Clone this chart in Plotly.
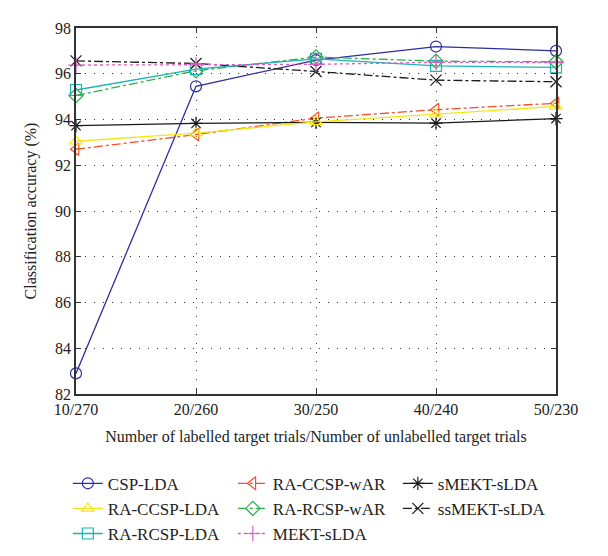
import plotly.graph_objects as go

categories = ["10/270", "20/260", "30/250", "40/240", "50/230"]

csp_lda = [82.9, 95.45, 96.6, 97.19, 97.0]
ra_ccsp_lda = [93.05, 93.4, 93.9, 94.22, 94.57]
ra_rcsp_lda = [95.29, 96.2, 96.65, 96.34, 96.28]
ra_ccsp_war = [92.7, 93.34, 94.06, 94.43, 94.71]
ra_rcsp_war = [95.05, 96.13, 96.73, 96.55, 96.52]
mekt_slda = [96.38, 96.4, 96.41, 96.5, 96.49]
smekt_slda = [93.73, 93.83, 93.87, 93.84, 94.04]
ssmekt_slda = [96.56, 96.45, 96.1, 95.72, 95.65]

yticks = [82, 84, 86, 88, 90, 92, 94, 96, 98]

xs = list(range(len(categories)))

series = [
    # name, values, color, dash, symbol, rank
    ("CSP-LDA", csp_lda, "#2E2E9E", "solid", "circle-open", 1),
    ("RA-CCSP-wAR", ra_ccsp_war, "#F0502A", "dashdot", "triangle-left-open", 2),
    ("sMEKT-sLDA", smekt_slda, "#1A1A1A", "solid", "asterisk-open", 3),
    ("RA-CCSP-LDA", ra_ccsp_lda, "#F5E617", "solid", "triangle-up-open", 4),
    ("RA-RCSP-wAR", ra_rcsp_war, "#2EAF4A", "dashdot", "diamond-open", 5),
    ("ssMEKT-sLDA", ssmekt_slda, "#1A1A1A", "dashdot", "x-thin-open", 6),
    ("RA-RCSP-LDA", ra_rcsp_lda, "#1BB5B0", "solid", "square-open", 7),
    ("MEKT-sLDA", mekt_slda, "#D65FC0", "dot", "cross-thin-open", 8),
]

fig = go.Figure()
for name, vals, color, dash, sym, rank in series:
    fig.add_trace(go.Scatter(
        x=xs, y=vals, name=name, mode="lines+markers",
        line=dict(color=color, width=1.3, dash=dash),
        marker=dict(symbol=sym, size=11, color=color, line=dict(color=color, width=1.2)),
        legendrank=rank, cliponaxis=False,
    ))

font = dict(family="Liberation Serif, Times New Roman, serif", size=16, color="#222222")

fig.update_layout(
    width=608, height=556,
    margin=dict(l=68, r=60, t=15, b=159),
    plot_bgcolor="white", paper_bgcolor="white",
    font=font,
    showlegend=True,
    legend=dict(
        orientation="h", x=-0.017, xanchor="left", y=-0.196, yanchor="top",
        entrywidth=120, entrywidthmode="pixels",
        font=dict(family="Liberation Serif, Times New Roman, serif", size=17, color="#222222"),
        tracegroupgap=0, bgcolor="rgba(0,0,0,0)",
    ),
    xaxis=dict(
        range=[0, 4], tickmode="array", tickvals=xs, ticktext=categories,
        showgrid=True, gridcolor="#333333", griddash="1px,8px", gridwidth=1,
        showline=True, linecolor="#333333", linewidth=1.5, mirror="ticks",
        ticks="inside", ticklen=5, tickcolor="#333333",
        zeroline=False,
        title=dict(text="Number of labelled target trials/Number of unlabelled target trials",
                   standoff=14, font=font),
        tickfont=font,
    ),
    yaxis=dict(
        range=[82, 98], tickmode="array", tickvals=yticks,
        showgrid=True, gridcolor="#333333", griddash="1px,8px", gridwidth=1,
        showline=True, linecolor="#333333", linewidth=1.5, mirror="ticks",
        ticks="inside", ticklen=5, tickcolor="#333333",
        zeroline=False,
        title=dict(text="Classification accuracy (%)", standoff=14, font=font),
        tickfont=font,
    ),
)

fig.write_html("out.html")
